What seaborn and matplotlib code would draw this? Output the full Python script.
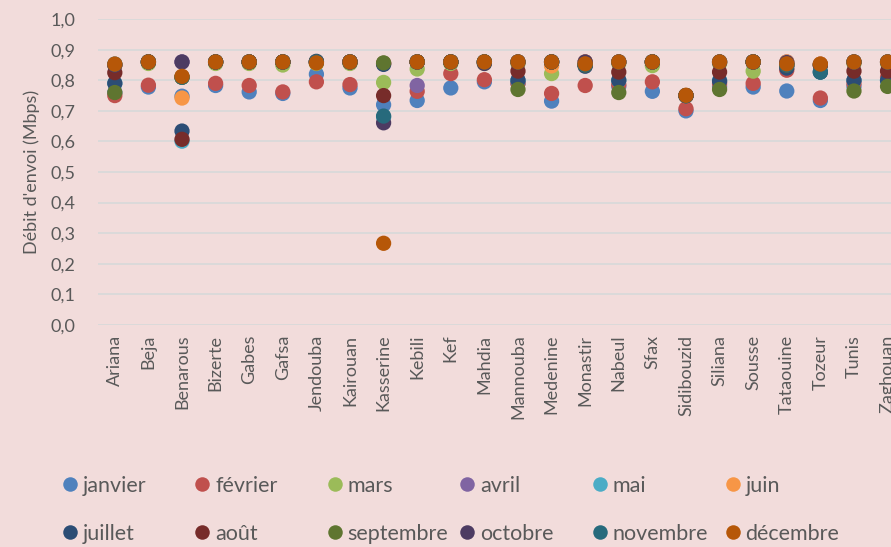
import numpy as np
import pandas as pd
import matplotlib
matplotlib.use("Agg")
import matplotlib.pyplot as plt
import seaborn as sns

# ── données ─────────────────────────────────────────────
villes = ["Ariana", "Beja", "Benarous", "Bizerte", "Gabes", "Gafsa", "Jendouba",
          "Kairouan", "Kasserine", "Kebili", "Kef", "Mahdia", "Mannouba",
          "Medenine", "Monastir", "Nabeul", "Sfax", "Sidibouzid", "Siliana",
          "Sousse", "Tataouine", "Tozeur", "Tunis", "Zaghouan"]

mois = ["janvier", "février", "mars", "avril", "mai", "juin",
        "juillet", "août", "septembre", "octobre", "novembre", "décembre"]

janvier = [0.76, 0.778, 0.748, 0.783, 0.762, 0.757, 0.82, 0.775, 0.72, 0.734, 0.775, 0.795,
           0.79, 0.732, 0.85, 0.78, 0.764, 0.70, 0.78, 0.778, 0.765, 0.734, 0.78, 0.80]
fevrier = [0.75, 0.784, 0.81, 0.79, 0.783, 0.762, 0.795, 0.786, 0.855, 0.764, 0.822, 0.802,
           0.79, 0.757, 0.783, 0.786, 0.795, 0.707, 0.79, 0.79, 0.833, 0.742, 0.79, 0.81]
mars = [0.85, 0.855, 0.81, 0.855, 0.855, 0.85, 0.855, 0.855, 0.793, 0.837, 0.855, 0.855,
        0.855, 0.822, 0.855, 0.855, 0.848, 0.75, 0.855, 0.83, 0.855, 0.85, 0.855, 0.855]
avril = [0.85, 0.86, 0.86, 0.86, 0.86, 0.86, 0.86, 0.86, 0.855, 0.783, 0.86, 0.86,
         0.86, 0.86, 0.86, 0.86, 0.86, 0.75, 0.86, 0.86, 0.86, 0.853, 0.86, 0.86]
mai = [0.79, 0.86, 0.601, 0.86, 0.86, 0.86, 0.86, 0.86, 0.68, 0.86, 0.86, 0.86,
       0.80, 0.86, 0.85, 0.80, 0.86, 0.75, 0.80, 0.86, 0.85, 0.827, 0.80, 0.80]
juin = [0.85, 0.86, 0.742, 0.86, 0.86, 0.86, 0.86, 0.86, 0.855, 0.86, 0.86, 0.86,
        0.86, 0.847, 0.86, 0.86, 0.86, 0.75, 0.86, 0.86, 0.86, 0.853, 0.86, 0.86]
juillet = [0.79, 0.86, 0.634, 0.86, 0.86, 0.86, 0.862, 0.86, 0.852, 0.86, 0.86, 0.86,
           0.80, 0.86, 0.846, 0.80, 0.86, 0.75, 0.797, 0.86, 0.84, 0.827, 0.80, 0.80]
aout = [0.825, 0.86, 0.607, 0.86, 0.86, 0.86, 0.86, 0.86, 0.75, 0.86, 0.86, 0.86,
        0.83, 0.86, 0.85, 0.827, 0.86, 0.75, 0.827, 0.86, 0.85, 0.85, 0.83, 0.83]
septembre = [0.76, 0.86, 0.81, 0.86, 0.86, 0.86, 0.86, 0.86, 0.857, 0.86, 0.86, 0.86,
             0.77, 0.86, 0.85, 0.76, 0.86, 0.75, 0.77, 0.86, 0.85, 0.85, 0.765, 0.78]
octobre = [0.85, 0.86, 0.86, 0.86, 0.86, 0.86, 0.86, 0.86, 0.661, 0.86, 0.86, 0.855,
           0.86, 0.86, 0.86, 0.86, 0.86, 0.75, 0.86, 0.86, 0.858, 0.85, 0.86, 0.86]
novembre = [0.853, 0.86, 0.81, 0.86, 0.86, 0.86, 0.86, 0.86, 0.683, 0.86, 0.86, 0.86,
            0.86, 0.86, 0.85, 0.86, 0.86, 0.75, 0.86, 0.86, 0.85, 0.827, 0.86, 0.86]
decembre = [0.853, 0.86, 0.813, 0.86, 0.86, 0.86, 0.857, 0.86, 0.267, 0.86, 0.86, 0.86,
            0.86, 0.86, 0.854, 0.86, 0.86, 0.751, 0.86, 0.86, 0.854, 0.853, 0.86, 0.86]

couleurs = ["#4F81BD", "#C0504D", "#9BBB59", "#8064A2", "#4BACC6", "#F79646",
            "#2C4D75", "#772C2A", "#5F7530", "#4D3B62", "#276A7C", "#B65708"]

series = [janvier, fevrier, mars, avril, mai, juin,
          juillet, aout, septembre, octobre, novembre, decembre]
df = pd.DataFrame({
    "ville": villes * len(mois),
    "mois": np.repeat(mois, len(villes)),
    "debit": np.concatenate(series),
})

# ── graphique ───────────────────────────────────────────
fond = "#F2DCDB"
gris = "#595959"
plt.rcParams["font.family"] = ["Lato", "DejaVu Sans"]

W, H = 891, 547
fig = plt.figure(figsize=(W / 100, H / 100), dpi=100, facecolor=fond)
ax = fig.add_axes([0.110, 0.406, 0.905, 0.559], facecolor=fond)

sns.stripplot(data=df, x="ville", y="debit", hue="mois", order=villes,
              hue_order=mois, palette=couleurs, jitter=False, dodge=False,
              size=11, linewidth=0, ax=ax)

ax.set_ylim(0, 1.0)
ax.set_xlim(-0.5, len(villes) - 0.5)
ticks = np.arange(0, 1.01, 0.1)
ax.set_yticks(ticks)
ax.set_yticklabels([f"{v:.1f}".replace(".", ",") for v in ticks])
ax.grid(axis="y", color="#D9D9D9", linewidth=1.3, zorder=0)
ax.set_axisbelow(True)
for s in ax.spines.values():
    s.set_visible(False)
ax.tick_params(axis="y", length=0, pad=16, labelsize=13, labelcolor=gris)
ax.tick_params(axis="x", length=0, pad=7, labelsize=13, labelcolor=gris, rotation=90)
ax.set_xlabel("")
ax.set_ylabel("Débit d'envoi (Mbps)", fontsize=13, color=gris, labelpad=8)

# légende : 6 colonnes de largeur fixe, deux lignes
handles, labels = ax.get_legend_handles_labels()
ax.get_legend().remove()
for k in range(6):
    x0 = (61 + k * 132.6) / W
    fig.legend([handles[k], handles[k + 6]], [labels[k], labels[k + 6]],
               loc="center left", bbox_to_anchor=(x0, 1 - 510 / H),
               frameon=False, fontsize=15.5, labelcolor=gris, markerscale=0.95,
               handletextpad=0.2, handlelength=0.8, borderpad=0,
               borderaxespad=0, labelspacing=1.3)

fig.savefig("out.png", dpi=100, facecolor=fond)
